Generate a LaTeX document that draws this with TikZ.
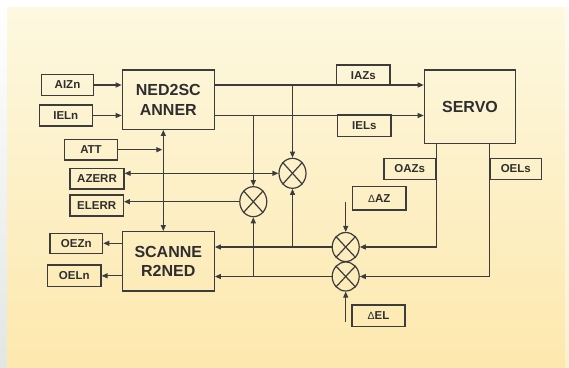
\documentclass[tikz,border=0pt]{standalone}
\usepackage{fontspec}
\setmainfont{Liberation Sans}
\usetikzlibrary{arrows.meta,shapes.geometric}
\definecolor{linec}{HTML}{3C3C3C}
\definecolor{txtc}{HTML}{2E2E2E}
\definecolor{bgtop}{HTML}{FDF8E0}
\definecolor{bgbot}{HTML}{FDE8AE}
\definecolor{sidec}{HTML}{E2E7E4}
\begin{document}
\begin{tikzpicture}[x=1pt,y=-1pt,
  line width=1.2pt, draw=linec,
  tip/.style={-{Triangle[length=6pt,width=5pt]}},
  dtip/.style={{Triangle[length=6pt,width=5pt]}-{Triangle[length=6pt,width=5pt]}},
  lbl/.style={draw=linec, line width=1.2pt, inner sep=0pt, text=txtc,
    font=\bfseries\fontsize{11.5}{13}\selectfont},
  blk/.style={draw=linec, line width=1.2pt, inner sep=0pt, text=txtc, align=center,
    font=\bfseries\fontsize{16}{19.5}\selectfont},
  mult/.style={draw=linec, line width=1.2pt, ellipse, inner sep=0pt,
    minimum width=27pt, minimum height=30pt}
]
\useasboundingbox (0,0) rectangle (569,367);
% background
\fill[white] (0,0) rectangle (569,367);
\shade[top color=white, bottom color=sidec] (0,0) rectangle (7.5,367);
\shade[top color=bgtop, bottom color=bgbot] (7.5,7) rectangle (569,367);
\shade[top color=white!60!bgtop, bottom color=white!40!bgbot] (565.5,7) rectangle (569,367);

% blocks
\node[blk, minimum width=92pt, minimum height=59.3pt] (NED) at (168.3,99.7) {NED2SC\\ANNER};
\node[blk, minimum width=92pt, minimum height=59.3pt] (SCAN) at (168.3,261.3) {SCANNE\\R2NED};
\node[blk, minimum width=91.4pt, minimum height=73.3pt] (SERVO) at (470,106.7) {SERVO};

% labels
\node[lbl, minimum width=52pt, minimum height=21.5pt] (AIZn) at (67.5,85) {AIZn};
\node[lbl, minimum width=53pt, minimum height=21pt] (IELn) at (65.8,115.5) {IELn};
\node[lbl, minimum width=53.4pt, minimum height=20.7pt] (ATT) at (91,149.7) {ATT};
\node[lbl, minimum width=54pt, minimum height=20.7pt] (AZERR) at (97,178.7) {AZERR};
\node[lbl, minimum width=53.3pt, minimum height=21pt] (ELERR) at (96.7,205.5) {ELERR};
\node[lbl, minimum width=52.7pt, minimum height=20pt] (OEZn) at (76.3,243.3) {OEZn};
\node[lbl, minimum width=53.3pt, minimum height=21.7pt] (OELn) at (74.3,275.8) {OELn};
\node[lbl, minimum width=53.3pt, minimum height=20.7pt] (IAZs) at (363.3,75.3) {IAZs};
\node[lbl, minimum width=53.3pt, minimum height=21.7pt] (IELs) at (364.3,125.8) {IELs};
\node[lbl, minimum width=51.7pt, minimum height=21pt] (OAZs) at (409.8,168.8) {OAZs};
\node[lbl, minimum width=51.7pt, minimum height=21pt] (OELs) at (515.8,168.8) {OELs};
\node[lbl, minimum width=53.7pt, minimum height=23.3pt] (DAZ) at (379.2,198.3) {{\mdseries\fontsize{10.5}{12}\selectfont Δ}AZ};
\node[lbl, minimum width=53pt, minimum height=21.7pt] (DEL) at (378.5,315.8) {{\mdseries\fontsize{10.5}{12}\selectfont Δ}EL};

% multipliers
\node[mult] (M1) at (292.5,173.3) {};
\node[mult] (M2) at (253.3,201.7) {};
\node[mult, minimum height=29pt] (M3) at (345.7,247) {};
\node[mult, minimum height=29pt] (M4) at (345.7,276.5) {};
\foreach \m in {M1,M2,M3,M4}{
  \draw (\m.north east) -- (\m.south west);
  \draw (\m.north west) -- (\m.south east);
}

% coordinates for free ends
\coordinate (vx) at (163.3,0);
\coordinate (dazs) at (345.7,201.7);
\coordinate (dels) at (345.7,321.7);

% inputs to NED
\draw[tip] (AIZn.east) -- (NED.west |- AIZn.east);
\draw[tip] (IELn.east) -- (NED.west |- IELn.east);
% NED to SERVO
\draw[tip] (NED.east |- AIZn.east) -- (SERVO.west |- AIZn.east);
\draw[tip] (NED.east |- IELn.east) -- (SERVO.west |- IELn.east);
% taps to multipliers
\draw[tip] (M1 |- AIZn.east) -- (M1.north);
\draw[tip] (M2 |- IELn.east) -- (M2.north);
% NED <-> SCANNER
\draw[dtip] (NED.south -| vx) -- (SCAN.north -| vx);
\draw[tip] (ATT.east) -- ([xshift=-1pt]vx |- ATT.east);
% errors
\draw[dtip] (AZERR.east |- M1.west) -- (M1.west);
\draw[tip] (M2.west) -- (ELERR.east |- M2.west);
% SCANNER outputs
\draw[tip] (SCAN.west |- OEZn.east) -- (OEZn.east);
\draw[tip] (SCAN.west |- OELn.east) -- (OELn.east);
% SCANNER inputs
\draw[tip] (M3.west) -- (SCAN.east |- M3.west);
\draw[tip] (M4.west) -- (SCAN.east |- M4.west);
\draw[tip] (M1 |- M3.west) -- (M1.south);
\draw[tip] (M2 |- M4.west) -- (M2.south);
% SERVO outputs
\draw[tip] (SERVO.south -| OAZs.east) -- (OAZs.east |- M3.east) -- (M3.east);
\draw[tip] (SERVO.south -| OELs.west) -- (OELs.west |- M4.east) -- (M4.east);
% deltas
\draw[tip] (dazs) -- (M3.north);
\draw[tip] (dels) -- (M4.south);
\end{tikzpicture}
\end{document}
